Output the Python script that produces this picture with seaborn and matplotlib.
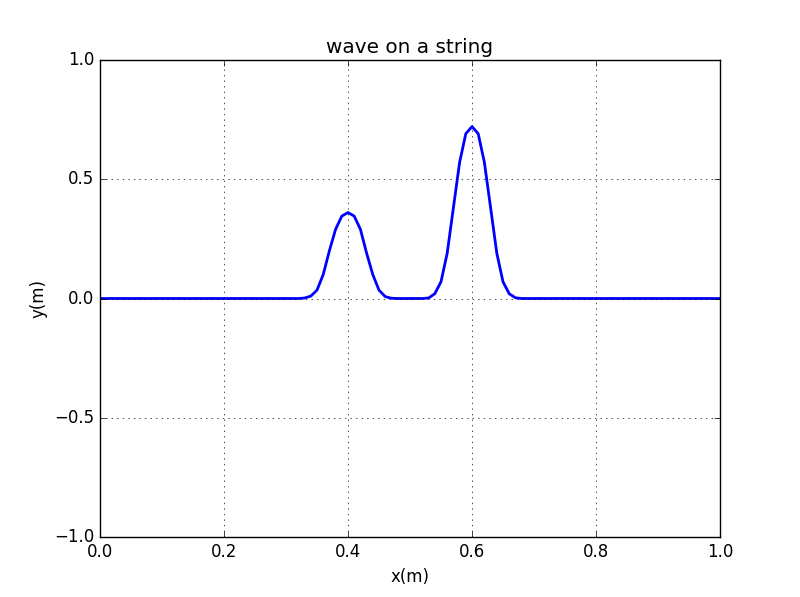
import numpy as np
import pandas as pd
import matplotlib
matplotlib.use("Agg")
import matplotlib.pyplot as plt
import seaborn as sns

x_vals = [round(i * 0.01, 2) for i in range(101)]
# nonzero values (others are ~0)
bump_x = [0.33, 0.34, 0.35, 0.36, 0.37, 0.38, 0.39, 0.40, 0.41, 0.42, 0.43, 0.44, 0.45, 0.46, 0.47,
          0.53, 0.54, 0.55, 0.56, 0.57, 0.58, 0.59, 0.60, 0.61, 0.62, 0.63, 0.64, 0.65, 0.66, 0.67]
bump_y = [0.002, 0.01, 0.035, 0.10, 0.20, 0.29, 0.345, 0.36, 0.345, 0.29, 0.19, 0.10, 0.035, 0.008, 0.001,
          0.002, 0.02, 0.07, 0.19, 0.38, 0.57, 0.69, 0.72, 0.69, 0.57, 0.38, 0.19, 0.07, 0.02, 0.003]

lookup = dict(zip(bump_x, bump_y))
y_vals = [lookup.get(x, 0.0) for x in x_vals]
df = pd.DataFrame({"x": x_vals, "y": y_vals})

plt.style.use("classic")
fig, ax = plt.subplots(figsize=(8, 5.97), dpi=100)
fig.patch.set_facecolor("white")
sns.lineplot(data=df, x="x", y="y", ax=ax, color="blue", linewidth=2)
ax.set_xlim(0, 1)
ax.set_ylim(-1, 1)
ax.set_xticks([0.0, 0.2, 0.4, 0.6, 0.8, 1.0])
ax.set_yticks([-1.0, -0.5, 0.0, 0.5, 1.0])
ax.grid(True, color="black", linestyle=":", linewidth=0.5)
ax.set_xlabel("x(m)")
ax.set_ylabel("y(m)")
ax.set_title("wave on a string")
fig.savefig("out.png", dpi=100)
